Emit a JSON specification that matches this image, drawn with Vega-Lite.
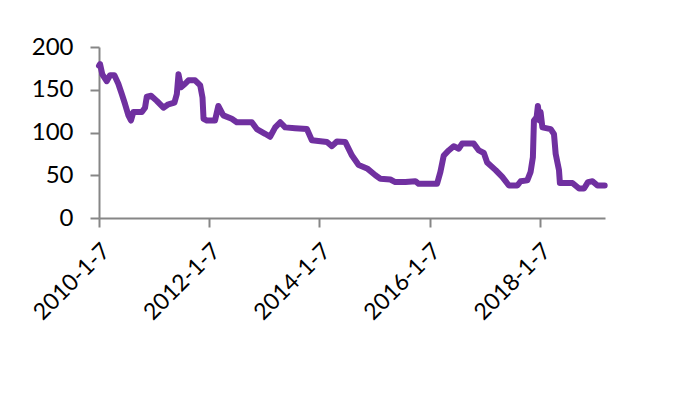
{
  "$schema": "https://vega.github.io/schema/vega-lite/v6.json",
  "width": 506,
  "height": 171,
  "autosize": {"type": "none"},
  "padding": {"left": 99, "top": 47, "right": 83, "bottom": 180},
  "background": "white",
  "config": {
    "view": {"stroke": null},
    "font": "Lato",
    "axis": {
      "grid": false,
      "domainColor": "#868686",
      "domainWidth": 2,
      "tickColor": "#868686",
      "tickWidth": 2,
      "tickSize": 9,
      "labelFont": "Lato",
      "labelFontSize": 23,
      "labelColor": "#000000",
      "title": null
    }
  },
  "data": {
    "values": [
      {"date": "2010-01-07", "value": 178},
      {"date": "2010-01-14", "value": 180},
      {"date": "2010-01-29", "value": 168},
      {"date": "2010-02-27", "value": 160},
      {"date": "2010-03-21", "value": 167},
      {"date": "2010-04-19", "value": 167},
      {"date": "2010-05-15", "value": 157},
      {"date": "2010-06-07", "value": 145},
      {"date": "2010-06-29", "value": 133},
      {"date": "2010-07-21", "value": 120},
      {"date": "2010-08-07", "value": 114},
      {"date": "2010-08-23", "value": 124},
      {"date": "2010-10-18", "value": 124},
      {"date": "2010-11-08", "value": 129},
      {"date": "2010-11-20", "value": 142},
      {"date": "2010-12-18", "value": 143},
      {"date": "2011-01-25", "value": 137},
      {"date": "2011-03-10", "value": 129},
      {"date": "2011-04-12", "value": 133},
      {"date": "2011-05-22", "value": 135},
      {"date": "2011-06-07", "value": 145},
      {"date": "2011-06-18", "value": 168},
      {"date": "2011-07-05", "value": 153},
      {"date": "2011-08-01", "value": 157},
      {"date": "2011-08-23", "value": 161},
      {"date": "2011-10-06", "value": 161},
      {"date": "2011-11-09", "value": 155},
      {"date": "2011-11-24", "value": 141},
      {"date": "2011-12-01", "value": 116},
      {"date": "2011-12-23", "value": 114},
      {"date": "2012-02-15", "value": 114},
      {"date": "2012-03-08", "value": 131},
      {"date": "2012-04-10", "value": 120},
      {"date": "2012-06-05", "value": 116},
      {"date": "2012-07-08", "value": 112},
      {"date": "2012-10-16", "value": 112},
      {"date": "2012-11-18", "value": 104},
      {"date": "2013-01-12", "value": 98.5},
      {"date": "2013-02-14", "value": 95},
      {"date": "2013-03-20", "value": 106},
      {"date": "2013-04-22", "value": 112},
      {"date": "2013-05-25", "value": 106},
      {"date": "2013-07-30", "value": 105},
      {"date": "2013-10-16", "value": 104},
      {"date": "2013-11-18", "value": 91},
      {"date": "2014-02-26", "value": 89},
      {"date": "2014-03-31", "value": 84},
      {"date": "2014-05-03", "value": 89.5},
      {"date": "2014-06-27", "value": 89},
      {"date": "2014-08-11", "value": 73},
      {"date": "2014-09-24", "value": 62},
      {"date": "2014-11-19", "value": 58},
      {"date": "2015-01-13", "value": 50},
      {"date": "2015-02-15", "value": 46},
      {"date": "2015-04-22", "value": 45},
      {"date": "2015-05-25", "value": 42},
      {"date": "2015-07-31", "value": 42},
      {"date": "2015-10-05", "value": 43},
      {"date": "2015-10-27", "value": 40},
      {"date": "2016-02-26", "value": 40},
      {"date": "2016-03-19", "value": 54},
      {"date": "2016-04-10", "value": 73},
      {"date": "2016-05-13", "value": 79},
      {"date": "2016-06-15", "value": 84},
      {"date": "2016-07-19", "value": 81},
      {"date": "2016-08-10", "value": 87},
      {"date": "2016-10-26", "value": 87},
      {"date": "2016-11-29", "value": 79},
      {"date": "2017-01-01", "value": 76},
      {"date": "2017-01-23", "value": 65},
      {"date": "2017-03-20", "value": 56},
      {"date": "2017-05-03", "value": 48},
      {"date": "2017-06-16", "value": 38},
      {"date": "2017-08-11", "value": 38},
      {"date": "2017-09-02", "value": 43},
      {"date": "2017-10-16", "value": 44},
      {"date": "2017-11-07", "value": 54},
      {"date": "2017-11-22", "value": 71},
      {"date": "2017-11-29", "value": 114},
      {"date": "2017-12-17", "value": 118},
      {"date": "2017-12-25", "value": 131},
      {"date": "2018-01-06", "value": 114},
      {"date": "2018-01-12", "value": 124},
      {"date": "2018-01-24", "value": 106},
      {"date": "2018-03-20", "value": 104},
      {"date": "2018-04-11", "value": 98},
      {"date": "2018-04-22", "value": 75},
      {"date": "2018-05-14", "value": 56},
      {"date": "2018-05-20", "value": 41},
      {"date": "2018-08-11", "value": 41},
      {"date": "2018-09-24", "value": 34.5},
      {"date": "2018-10-27", "value": 34.5},
      {"date": "2018-11-22", "value": 42},
      {"date": "2018-12-22", "value": 43},
      {"date": "2019-01-24", "value": 38},
      {"date": "2019-03-13", "value": 38}
    ]
  },
  "mark": {
    "type": "line",
    "color": "#7030A0",
    "strokeWidth": 6,
    "strokeCap": "round",
    "strokeJoin": "round",
    "clip": false
  },
  "encoding": {
    "x": {
      "field": "date",
      "type": "temporal",
      "scale": {
        "domain": [
          {"year": 2010, "month": 1, "date": 7, "utc": true},
          {"year": 2019, "month": 3, "date": 15, "utc": true}
        ]
      },
      "axis": {
        "values": [
          {"year": 2010, "month": 1, "date": 7, "utc": true},
          {"year": 2012, "month": 1, "date": 7, "utc": true},
          {"year": 2014, "month": 1, "date": 7, "utc": true},
          {"year": 2016, "month": 1, "date": 7, "utc": true},
          {"year": 2018, "month": 1, "date": 7, "utc": true}
        ],
        "labelExpr": "utcFormat(datum.value, '%Y-%-m-%-d')",
        "labelAngle": -45,
        "labelAlign": "right",
        "labelBaseline": "middle",
        "labelPadding": 20,
        "labelOffset": 7,
        "labelOverlap": false,
        "labelFlush": false,
        "labelBound": false
      }
    },
    "y": {
      "field": "value",
      "type": "quantitative",
      "scale": {"domain": [0, 200], "nice": false, "zero": true},
      "axis": {
        "values": [0, 50, 100, 150, 200],
        "labelPadding": 17,
        "labelFontSize": 24,
        "labelFlush": false
      }
    }
  }
}
